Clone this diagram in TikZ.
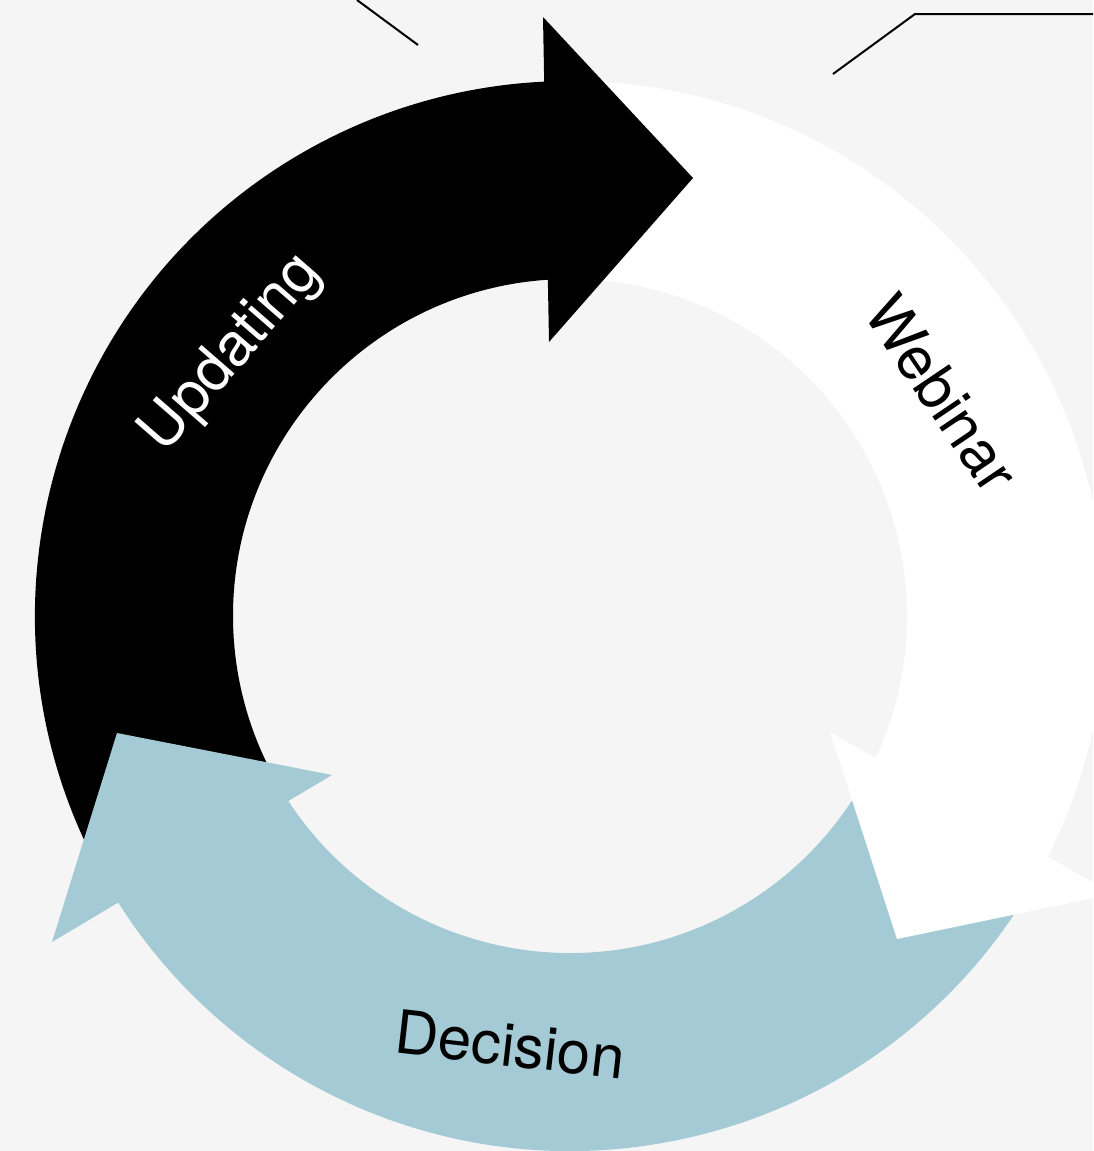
\documentclass[tikz,border=0pt]{standalone}
\usepackage{fontspec}
\setmainfont{TeX Gyre Heros}
\usetikzlibrary{calc}
\definecolor{bgc}{HTML}{F5F5F5}
\definecolor{cycblue}{HTML}{A4CBD5}
\begin{document}
\begin{tikzpicture}[x=1pt,y=1pt,
  lab/.style={font=\fontsize{60}{72}\selectfont, inner sep=0pt},
  leader/.style={draw=black, line width=2pt}]
\useasboundingbox (0,0) rectangle (1093,-1151);
\fill[bgc] (0,0) rectangle (1093,-1151);
\clip (0,0) rectangle (1093,-1151);
\coordinate (C) at (570,-616);
% ring bodies
\fill[black] ($(C)+(208:535)$) arc[start angle=208,end angle=92,radius=535]
  -- ($(C)+(92:337)$) arc[start angle=92,end angle=208,radius=337] -- cycle;
\fill[white] ($(C)+(90:535)$) arc[start angle=90,end angle=-29,radius=535]
  -- ($(C)+(-29:337)$) arc[start angle=-29,end angle=90,radius=337] -- cycle;
\fill[cycblue] ($(C)+(330:535)$) arc[start angle=330,end angle=211,radius=535]
  -- ($(C)+(211:337)$) arc[start angle=211,end angle=330,radius=337] -- cycle;
% arrow heads
\coordinate (bkI) at (549,-342); \coordinate (bkT) at (693,-178); \coordinate (bkO) at (543,-17);
\coordinate (whI) at (830,-732); \coordinate (whT) at (897,-939); \coordinate (whO) at (1113,-894);
\coordinate (blI) at (332,-775); \coordinate (blT) at (117,-733); \coordinate (blO) at (52,-942);
\fill[black] (bkO) -- (bkT) -- (bkI) -- cycle;
\fill[white] (whI) -- (whT) -- (whO) -- cycle;
\fill[cycblue] (blI) -- (blT) -- (blO) -- cycle;
% labels
\node[lab, text=white, rotate=49] (upd) at (232,-354) {Updating};
\node[lab, text=black, rotate=-56] (web) at (942,-393) {Webinar};
\node[lab, text=black, rotate=-6.5, anchor=base] (dec) at (508,-1066) {Decision};
% leader lines
\coordinate (l1a) at (357,0); \coordinate (l1b) at (418,-45);
\coordinate (l2a) at (833,-74); \coordinate (l2b) at (915,-14); \coordinate (l2c) at (1093,-14);
\draw[leader] (l1a) -- (l1b);
\draw[leader] (l2a) -- (l2b) -- (l2c);
\end{tikzpicture}
\end{document}
